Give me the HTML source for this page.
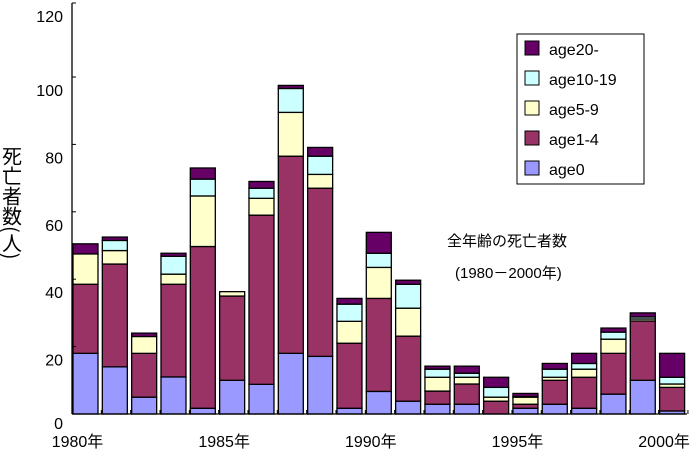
<!DOCTYPE html>
<html><head><meta charset="utf-8"><style>
body{margin:0;background:#fff;}
svg text{font-family:"Liberation Sans","Noto Sans CJK JP",sans-serif;fill:#000;}
</style></head><body>
<svg id="chart" width="690" height="452">
<g id="bars"></g>
<g id="axes"></g>
<text x="12" y="146" font-size="20" writing-mode="tb" style="font-family:'Noto Sans CJK JP',sans-serif">死亡者数(人)</text>
<text x="447" y="246" font-size="15">全年齢の死亡者数</text>
<text x="455" y="278" font-size="15">(1980－2000年)</text>
<g>
<rect x="517" y="34" width="127" height="150" fill="#fff" stroke="#000" stroke-width="1"/>
<g id="legend"></g>
</g>
</svg>
<script>
const years=[1980,1981,1982,1983,1984,1985,1986,1987,1988,1989,1990,1991,1992,1993,1994,1995,1996,1997,1998,1999,2000];
const age0=[18,14,5,11,1.7,10,8.8,18,17.1,1.7,6.7,3.8,2.9,2.9,0,1.7,2.9,1.7,5.9,10,0.9];
const age1_4=[20.5,30.5,13,27.5,48,25,50.2,58.5,49.9,19.3,27.6,19.3,3.9,6,3.8,1.2,7.1,9.2,12.1,17.6,7];
const age5_9=[9,4,5,3,15,1.3,5,13,4.1,6.5,9.2,8.3,4.1,2,1.2,2.1,0.9,2.4,4.2,0.6,1];
const age10_19=[0,3,0,5.3,5,0,3,7.1,5.4,5.1,4.2,7.1,2.4,1.2,2.9,0.2,2.4,1.7,2.1,0.6,2];
const age20=[3,1,1,0.9,3.3,0,2,0.9,2.6,1.7,6.2,1.2,0.9,2.1,3,0.9,1.7,3,1.2,1.2,7.1];
const yTicks=[0,20,40,60,80,100,120];
const xLabels=["1980年","1985年","1990年","1995年","2000年"];
const xLabelYears=[1980,1985,1990,1995,2000];
const seriesNames=["age0","age1-4","age5-9","age10-19","age20-"];
const seriesColors=["#9999ff","#993366","#ffffcc","#ccffff","#660066"];
const seriesData=[age0,age1_4,age5_9,age10_19,age20];

const NS="http://www.w3.org/2000/svg";
const x0=72,step=29.33,bw=25,y0=414,ppu=3.37;
function xOf(i){return x0+1+i*step;}
function yOf(v){return y0-v*ppu;}
function mk(tag,attrs,parent){const e=document.createElementNS(NS,tag);for(const k in attrs)e.setAttribute(k,attrs[k]);parent.appendChild(e);return e;}
const bars=document.getElementById('bars');
years.forEach((yr,i)=>{
  let acc=0;
  seriesData.forEach((s,k)=>{
    const v=s[i];if(v<=0)return;
    const r=mk('rect',{x:xOf(i),y:yOf(acc+v),width:bw,height:v*ppu,fill:seriesColors[k],stroke:'#000','stroke-width':1.3},bars);
    
    
    acc+=v;
  });
});
const ax=document.getElementById('axes');
const yl=mk('line',{x1:x0,y1:3,x2:x0,y2:y0,stroke:'#000','stroke-width':1.3},ax);


const xl=mk('line',{x1:x0,y1:y0,x2:687,y2:y0,stroke:'#000','stroke-width':1.3},ax);


yTicks.forEach(t=>{
  const ty=t===120?3:yOf(t);
  mk('line',{x1:x0,y1:ty,x2:x0+4,y2:ty},ax).setAttribute('stroke','#000');
  const tx=mk('text',{x:63,y:ty+(t===0?15:19),'font-size':16,'text-anchor':'end'},ax);
  tx.textContent=t;
  
  
});
years.forEach((yr,i)=>{
  const gx=x0+(i+1)*step;
  mk('line',{x1:gx,y1:y0,x2:gx,y2:y0-4,stroke:'#000'},ax);
});
xLabels.forEach((l,j)=>{
  const i=years.indexOf(xLabelYears[j]);
  const tx=mk('text',{x:xOf(i)+bw/2-8,y:447,'font-size':16,'text-anchor':'middle'},ax);
  tx.textContent=l;
  
  
});
const lg=document.getElementById('legend');
for(let k=4;k>=0;k--){
  const row=4-k, cy=48+row*30;
  const g=mk('g',{},lg);
  
  
  mk('rect',{x:525,y:cy-7,width:14,height:14,fill:seriesColors[k],stroke:'#000','stroke-width':1},g);
  const t=mk('text',{x:549,y:cy+7,'font-size':16},g);
  t.textContent=seriesNames[k];
}
</script>
</body></html>
